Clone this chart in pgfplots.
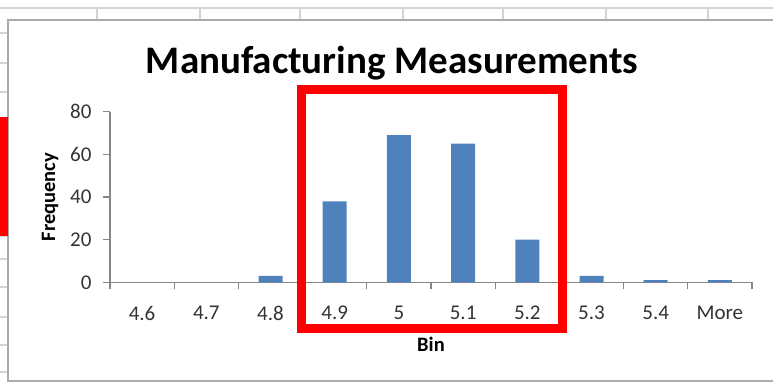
\documentclass[border=0pt]{standalone}
\usepackage{fontspec}
\setmainfont{Carlito}
\usepackage{pgfplots}
\pgfplotsset{compat=1.18}

\definecolor{barblue}{HTML}{4F81BD}
\definecolor{axisgray}{HTML}{868686}
\definecolor{cellgray}{HTML}{D4D4D4}
\definecolor{framegray}{HTML}{ABABAB}
\definecolor{labelgray}{HTML}{333333}

\begin{document}
\begin{tikzpicture}
\useasboundingbox (0,0) rectangle (773pt,384pt);

% worksheet cells and chart frame (pixel-like coordinates, y downwards)
\begin{scope}[x=1pt,y=-1pt,yshift=384pt]
  \draw[cellgray, line width=1.6pt] (0,8) -- (773,8);
  \foreach \cx in {97,200,300,403,503,606,708}
    \draw[cellgray, line width=1.2pt] (\cx,8) -- (\cx,20);
  \foreach \cy in {33,63,92,121,150,179,207,236,259,287,317,345,372}
    \draw[cellgray, line width=1.2pt] (0,\cy) -- (8,\cy);
  \draw[framegray, line width=1.8pt] (800,20) -- (8,20) -- (8,381) -- (800,381);
  \node[font=\fontsize{39}{44}\selectfont\bfseries, anchor=base] at (392,73) {Manufacturing Measurements};
\end{scope}

\begin{axis}[
  at={(110pt,101.7pt)}, anchor=south west,
  scale only axis, width=642pt, height=170.6pt,
  xmin=-0.5, xmax=9.5, ymin=0, ymax=80,
  axis x line*=bottom, axis y line*=left,
  axis line style={draw=axisgray, line width=1.2pt, -},
  ytick={0,20,40,60,80},
  xtick={0,...,9},
  xticklabels={4.6,4.7,4.8,4.9,5,5.1,5.2,5.3,5.4,More},
  minor xtick={-0.5,0.5,...,9.5},
  major x tick style={draw=none},
  tick align=outside,
  major tick length=7pt, minor tick length=7pt,
  every tick/.style={axisgray, line width=1.2pt},
  tick label style={font=\fontsize{21}{24}\selectfont, text=labelgray},
  /pgf/number format/assume math mode=true,
  yticklabel style={xshift=-8pt},
  xticklabel style={yshift=-13pt},
  xlabel={Bin}, ylabel={Frequency},
  label style={font=\fontsize{20.5}{24}\selectfont\bfseries, inner sep=0pt},
  xlabel style={at={(axis description cs:0.5,0)}, anchor=north, yshift=-55pt},
  ylabel style={at={(axis description cs:0,0.5)}, anchor=center, yshift=60pt},
  ybar, bar width=24pt,
  clip=false,
]
\addplot[fill=barblue, draw=none] coordinates {
  (0,0) (1,0) (2,3) (3,38) (4,69) (5,65) (6,20) (7,3) (8,1) (9,1)
};
\end{axis}

% highlight
\begin{scope}[x=1pt,y=-1pt,yshift=384pt]
  \draw[red, line width=9pt] (301.5,89.5) rectangle (562.5,328.5);
  \fill[red] (0,117) rectangle (8,236);
\end{scope}
\end{tikzpicture}
\end{document}
